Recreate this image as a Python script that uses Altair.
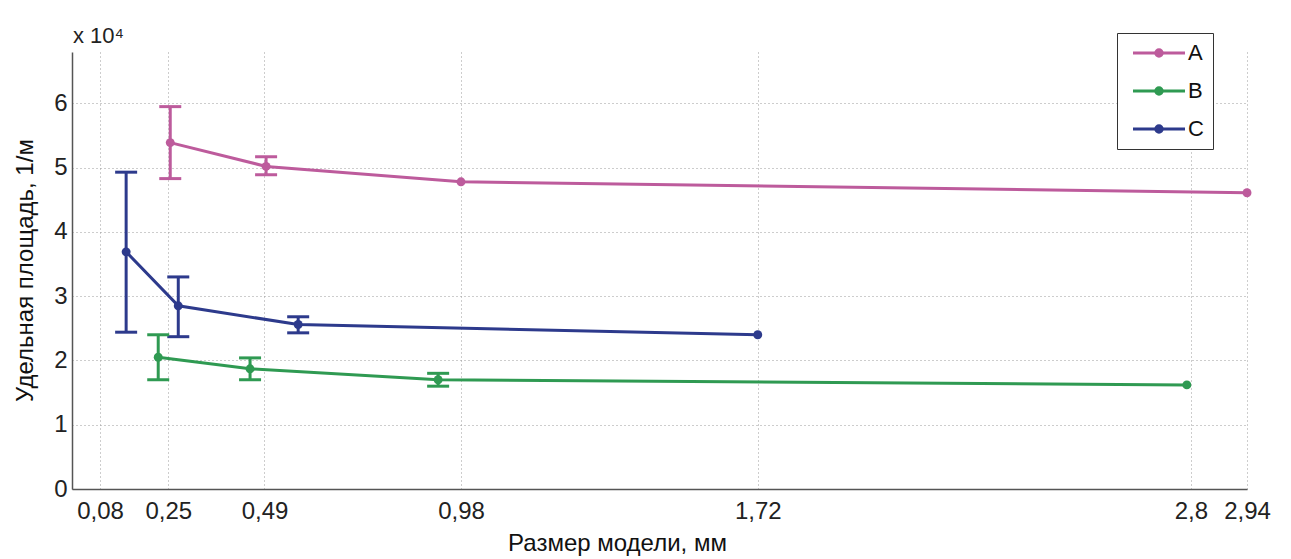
import altair as alt
import pandas as pd

# ---- data (values in units of 10^4 1/м) ----
series_names = ["A", "B", "C"]
series_colors = ["#bd5b9c", "#2f9a52", "#2d3a8c"]

A_x = [0.255, 0.494, 0.98, 2.94]
A_y = [5.39, 5.02, 4.78, 4.61]
A_lo = [4.83, 4.89, None, None]
A_hi = [5.95, 5.17, None, None]

B_x = [0.225, 0.454, 0.923, 2.79]
B_y = [2.05, 1.87, 1.70, 1.62]
B_lo = [1.70, 1.70, 1.60, None]
B_hi = [2.40, 2.04, 1.80, None]

C_x = [0.145, 0.275, 0.574, 1.72]
C_y = [3.69, 2.85, 2.56, 2.40]
C_lo = [2.44, 2.37, 2.43, None]
C_hi = [4.93, 3.30, 2.68, None]

x_ticks = [0.08, 0.25, 0.49, 0.98, 1.72, 2.8, 2.94]
y_ticks = [0, 1, 2, 3, 4, 5, 6]
y_multiplier = ["x 10⁴"]

# ---- build tables ----
rows, err_rows = [], []
for name, xs_, ys_, los, his in [("A", A_x, A_y, A_lo, A_hi),
                                 ("B", B_x, B_y, B_lo, B_hi),
                                 ("C", C_x, C_y, C_lo, C_hi)]:
    for x, y, lo, hi in zip(xs_, ys_, los, his):
        rows.append({"series": name, "x": x, "y": y})
        if lo is not None:
            err_rows.append({"series": name, "x": x, "lo": lo, "hi": hi})
df = pd.DataFrame(rows)
err = pd.DataFrame(err_rows)
mult_df = pd.DataFrame({"t": y_multiplier})

FONT = "Liberation Sans"

xs = alt.Scale(domain=[0.01, 2.94], zero=False, nice=False)
ys = alt.Scale(domain=[0, 6.8], nice=False)

def sc():
    return alt.Scale(domain=series_names, range=series_colors)

x_axis = alt.Axis(values=x_ticks,
                  labelExpr="replace(toString(datum.value), '.', ',')",
                  labelOverlap=False, labelFlush=False,
                  title="Размер модели, мм", titleX=545, titleY=61,
                  titleAlign="center", titleBaseline="alphabetic",
                  labelPadding=10, ticks=False)
y_axis = alt.Axis(values=y_ticks, format="d",
                  title="Удельная площадь, 1/м", titleX=-47, titleY=218,
                  titleAngle=-90, titleAlign="center", titleBaseline="middle",
                  labelPadding=5, ticks=False)

X = alt.X("x:Q", scale=xs, axis=x_axis)
Y = alt.Y("y:Q", scale=ys, axis=y_axis)

# legend symbol: a line with a dot (dot drawn as concentric stroked rings)
legend_path = ("M-4,0L4,0"
               "M-0.2,0A0.2,0.2,0,1,0,0.2,0A0.2,0.2,0,1,0,-0.2,0"
               "M-0.5,0A0.5,0.5,0,1,0,0.5,0A0.5,0.5,0,1,0,-0.5,0")
legend = alt.Legend(orient="none", legendX=1045, legendY=-19, title=None,
                    symbolType=legend_path, symbolSize=169, symbolStrokeWidth=3,
                    symbolOffset=22, labelOffset=18, labelFontSize=22, labelFont=FONT,
                    labelColor="#111", strokeColor="#333", fillColor="white",
                    padding=9, rowPadding=16)

line = alt.Chart(df).mark_line(strokeWidth=3).encode(
    x=X, y=Y, stroke=alt.Stroke("series:N", scale=sc(), legend=legend), order="x:Q")

rules = alt.Chart(err).mark_rule(strokeWidth=3).encode(
    x=alt.X("x:Q", scale=xs), y=alt.Y("lo:Q", scale=ys), y2="hi:Q",
    stroke=alt.Stroke("series:N", scale=sc(), legend=legend))

caps_lo = alt.Chart(err).mark_tick(orient="horizontal", size=22, thickness=3, opacity=1).encode(
    x=alt.X("x:Q", scale=xs), y=alt.Y("lo:Q", scale=ys),
    color=alt.Color("series:N", scale=sc(), legend=None))
caps_hi = alt.Chart(err).mark_tick(orient="horizontal", size=22, thickness=3, opacity=1).encode(
    x=alt.X("x:Q", scale=xs), y=alt.Y("hi:Q", scale=ys),
    color=alt.Color("series:N", scale=sc(), legend=None))

points = alt.Chart(df).mark_point(filled=True, size=80, opacity=1).encode(
    x=X, y=Y,
    color=alt.Color("series:N", scale=sc(), legend=None))

mult = alt.Chart(mult_df).mark_text(
    align="left", baseline="alphabetic", fontSize=22, font=FONT, color="#222"
).encode(x=alt.value(1), y=alt.value(-9), text="t:N")

chart = alt.layer(line, rules, caps_lo, caps_hi, points, mult).properties(
    width=1175, height=437,
    autosize=alt.AutoSizeParams(type="none"),
    padding={"left": 64, "top": 44, "right": 32, "bottom": 70},
).configure_view(stroke=None).configure_axis(
    labelFont=FONT, titleFont=FONT, labelFontSize=24, titleFontSize=24,
    titleFontWeight="normal", labelColor="#222", titleColor="#111",
    grid=True, gridDash=[1, 3], gridColor="#9a9a9a", gridWidth=1,
    domainColor="#555", domainWidth=1.5)

chart.save("out.html", embed_options={"renderer": "svg", "actions": False})
